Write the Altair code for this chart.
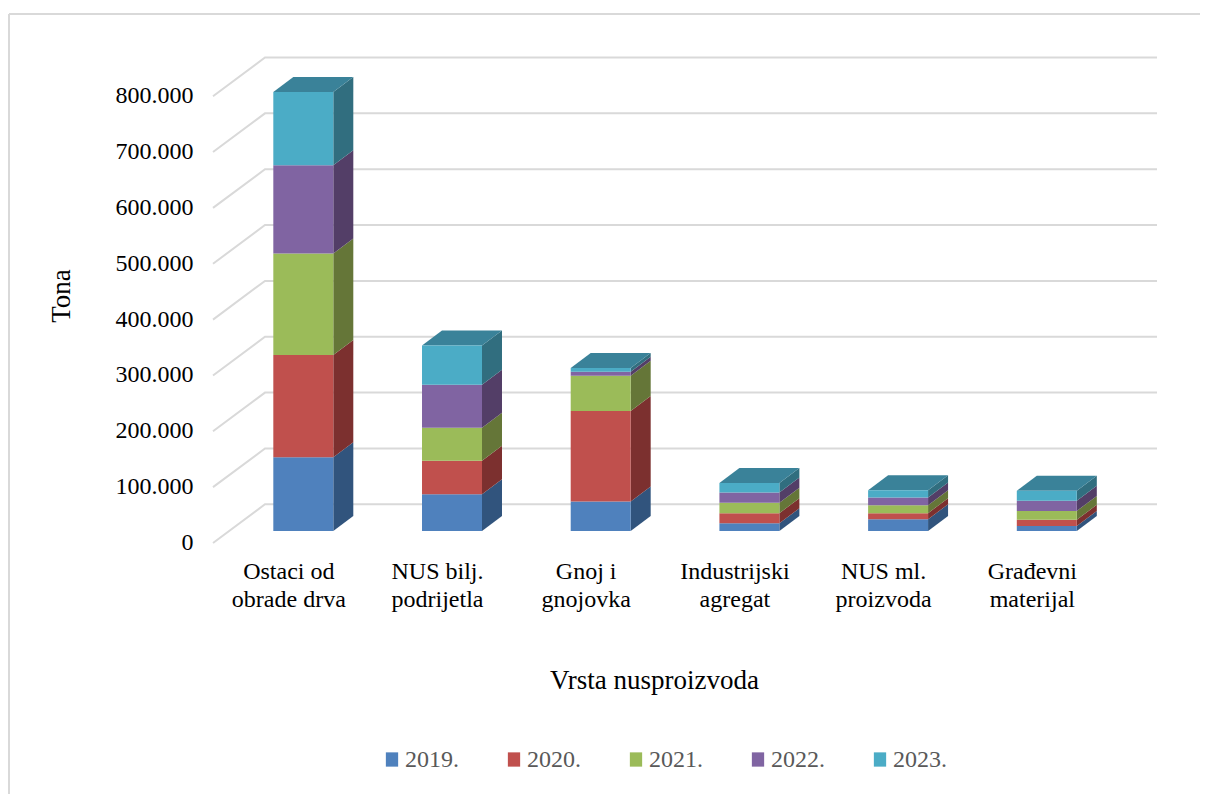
import json
import altair as alt
import pandas as pd

FONT = "Liberation Serif"
categories = ["Ostaci od|obrade drva", "NUS bilj.|podrijetla", "Gnoj i|gnojovka",
              "Industrijski|agregat", "NUS ml.|proizvoda", "Građevni|materijal"]
years = ["2019.", "2020.", "2021.", "2022.", "2023."]
v2019 = [132000, 66000, 53000, 14000, 21000, 9000]
v2020 = [183000, 60000, 162000, 18000, 11000, 11000]
v2021 = [182000, 59000, 63000, 18500, 14000, 16000]
v2022 = [158000, 77000, 7000, 18500, 14000, 18000]
v2023 = [131000, 70000, 7000, 17000, 13000, 18000]
series = [v2019, v2020, v2021, v2022, v2023]
front_colors = ["#4F81BD", "#C0504D", "#9BBB59", "#8064A2", "#4BACC6"]
side_colors = ["#31547D", "#7C302F", "#657638", "#533E67", "#316E7F"]
top_color = "#3A8299"
ticks = list(range(0, 900000, 100000))

# projection of the pseudo-3D box, in data units
HALF = 0.2017
DEPTH_X = 0.1345
DEPTH_Y = 26860
X_MIN, X_MAX = -0.6073, 5.7411
Y_MIN, Y_MAX = -21486, 847800
WALL_X = X_MIN + 0.3497
WALL_Y = 47800

x_scale = alt.Scale(domain=[X_MIN, X_MAX], nice=False, zero=False)
y_scale = alt.Scale(domain=[Y_MIN, Y_MAX], nice=False, zero=False)

front, side, top, grid = [], [], [], []
for i in range(len(categories)):
    base = 0
    for year, vals, side_c in zip(years, series, side_colors):
        t = base + vals[i]
        front.append(dict(x=i - HALF, x2=i + HALF, y=base, y2=t, year=year))
        for px, shift in ((i + HALF, 0), (i + HALF + DEPTH_X, DEPTH_Y)):
            side.append(dict(x=px, y=base + shift, y2=t + shift, key=f"{i}-{year}", c=side_c))
        base = t
    for shift, dx in ((0, 0), (DEPTH_Y, DEPTH_X)):
        top.append(dict(y=base + shift, x=i - HALF + dx, x2=i + HALF + dx, key=str(i)))
for v in ticks:
    grid += [dict(x=X_MIN, y=v + Y_MIN, t=v, o=0),
             dict(x=WALL_X, y=v + WALL_Y, t=v, o=1),
             dict(x=X_MAX, y=v + WALL_Y, t=v, o=2)]

x_axis = alt.Axis(
    values=list(range(len(categories))),
    labelExpr="split(%s[datum.value], '|')" % json.dumps(categories, ensure_ascii=False),
    labelFont=FONT, labelFontSize=24, labelColor="#000000", labelPadding=16, labelOffset=-15,
    labelLineHeight=28, labelAngle=0, labelBaseline="top",
    domain=False, ticks=False, grid=False,
    title="Vrsta nusproizvoda", titleFont=FONT, titleFontSize=27, titleFontWeight="normal",
    titleColor="#000000", titleX=441, titleY=137, titleBaseline="middle", titleAlign="center",
)
y_axis = alt.Axis(
    values=ticks,
    labelExpr="replace(format(datum.value, ','), ',', '.')",
    labelFont=FONT, labelFontSize=24, labelColor="#000000", labelPadding=20, labelOffset=11.5,
    domain=False, ticks=False, grid=False,
    title="Tona", titleFont=FONT, titleFontSize=27, titleFontWeight="normal", titleColor="#000000",
    titleX=-152, titleY=238, titleAngle=270, titleBaseline="middle", titleAlign="center",
)

grid_layer = alt.Chart(pd.DataFrame(grid)).mark_line(color="#d9d9d9", strokeWidth=2, clip=False).encode(
    x=alt.X("x:Q", scale=x_scale, axis=x_axis),
    y=alt.Y("y:Q", scale=y_scale, axis=y_axis),
    detail="t:N",
    order="o:Q",
)
side_layer = alt.Chart(pd.DataFrame(side)).mark_area(opacity=1, interpolate="linear").encode(
    x=alt.X("x:Q", scale=x_scale, axis=x_axis),
    y=alt.Y("y:Q", scale=y_scale, axis=y_axis),
    y2="y2:Q",
    detail="key:N",
    fill=alt.Fill("c:N", scale=None),
)
top_layer = alt.Chart(pd.DataFrame(top)).mark_area(orient="horizontal", opacity=1, color=top_color).encode(
    y=alt.Y("y:Q", scale=y_scale, axis=y_axis),
    x=alt.X("x:Q", scale=x_scale, axis=x_axis),
    x2="x2:Q",
    detail="key:N",
)
front_layer = alt.Chart(pd.DataFrame(front)).mark_rect(opacity=1).encode(
    x=alt.X("x:Q", scale=x_scale, axis=x_axis),
    x2="x2:Q",
    y=alt.Y("y:Q", scale=y_scale, axis=y_axis),
    y2="y2:Q",
    color=alt.Color("year:N", scale=alt.Scale(domain=years, range=front_colors), legend=alt.Legend(
        title=None, orient="none", legendX=167, legendY=690, direction="horizontal", columns=5,
        symbolType="M-0.86,-1H0.86V1H-0.86Z", symbolSize=204, symbolStrokeWidth=0, symbolOpacity=1,
        labelFont=FONT, labelFontSize=24, labelColor="#595959", labelOffset=1, columnPadding=43,
    )),
)
frame_df = pd.DataFrame({"k": ["frame"]})
frame_left = alt.Chart(frame_df).mark_rule(color="#d9d9d9", strokeWidth=2, clip=False).encode(
    x=alt.value(-204), y=alt.value(-43.5), y2=alt.value(760))
frame_top = alt.Chart(frame_df).mark_rule(color="#d9d9d9", strokeWidth=2, clip=False).encode(
    y=alt.value(-43.5), x=alt.value(-204), x2=alt.value(1000))

chart = alt.layer(frame_left, frame_top, grid_layer, side_layer, top_layer, front_layer).properties(
    width=944, height=485.5, background="white",
    padding={"left": 205, "top": 49.5, "right": 43, "bottom": 251},
    autosize=alt.AutoSizeParams(type="none"),
).configure_view(stroke=None)

chart.save("out.html", embed_options={"renderer": "svg", "actions": False})
